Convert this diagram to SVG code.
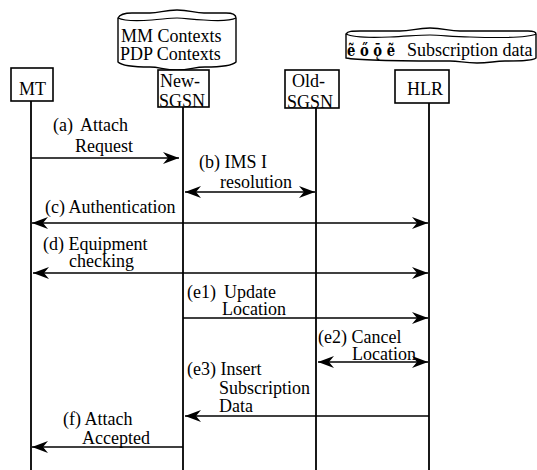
<svg xmlns="http://www.w3.org/2000/svg" width="537" height="470" viewBox="0 0 537 470">
<defs>
<marker id="ah" viewBox="0 0 16 12" refX="16" refY="6" markerWidth="16" markerHeight="12" markerUnits="userSpaceOnUse" orient="auto-start-reverse">
<path d="M0,0 L16,6 L0,12 L5,6 Z" fill="#000"/>
</marker>
</defs>
<style>
text{font-family:"Liberation Serif","Times New Roman",serif;font-size:18px;fill:#000}
.box{fill:#fff;stroke:#000;stroke-width:1.6}
.db{fill:#fff;stroke:#000;stroke-width:1.4}
.dbl{fill:none;stroke:#000;stroke-width:1.2}
.life{stroke:#000;stroke-width:1.8;fill:none}
.msg{stroke:#000;stroke-width:1.6;fill:none}
.one{marker-end:url(#ah)}
.two{marker-start:url(#ah);marker-end:url(#ah)}
.glyph{font-family:"DejaVu Serif",serif;font-weight:bold;font-size:17px}
</style>
<rect width="537" height="470" fill="#fff"/>

<g id="mm-contexts">
<path class="db" d="M118,18 C120,14 124,13 132,13 L150,13 C160,13 164,10 177,10 C190,10 194,13 204,13 L226,13 C233,13 236,15 236,18 L236,62 C232,66 220,67 205,67 C194,67 190,70 177,70 C164,70 160,67 150,67 C134,67 122,66 118,62 Z"/>
<path class="dbl" d="M118,18 C124,21 138,21 152,20 C164,19 170,18 177,18 C186,18 192,20 204,20 C218,21 230,21 236,18"/>
<text x="121" y="42">MM Contexts</text>
<text x="120" y="60">PDP Contexts</text>
</g>

<g id="subscription-data">
<path class="db" d="M346,34 C348,31 352,31 360,31 L400,31 C412,31 416,28 430,28 C444,28 448,31 460,31 L528,31 C534,31 536,32 536,34 L536,58 C532,61 520,61 505,61 C494,61 490,63 477,63 C464,63 460,61 450,61 C420,61 360,61 346,58 Z"/>
<path class="dbl" d="M346,34 C352,37 366,38 390,37 C410,36 420,35 430,35 C442,35 452,37 470,37 C500,38 528,38 536,34"/>
<text class="glyph" x="347" y="56" textLength="48" lengthAdjust="spacingAndGlyphs">ẽ ő ǭ ẽ</text>
<text x="407" y="56">Subscription data</text>
</g>

<g id="MT">
<rect class="box" x="11" y="68" width="42" height="33"/>
<text x="19" y="95">MT</text>
</g>

<g id="New-SGSN">
<rect class="box" x="158" y="70" width="51" height="37"/>
<text x="160" y="87">New-</text>
<text x="159" y="107">SGSN</text>
</g>

<g id="Old-SGSN">
<rect class="box" x="285" y="70" width="54" height="38"/>
<text x="292" y="87">Old-</text>
<text x="287" y="108">SGSN</text>
</g>

<g id="HLR">
<rect class="box" x="395" y="70" width="54" height="33"/>
<text x="407" y="95">HLR</text>
</g>

<g id="lifelines">
<line class="life" x1="31" y1="101" x2="31" y2="470"/>
<line class="life" x1="183" y1="107" x2="183" y2="470"/>
<line class="life" x1="316" y1="108" x2="316" y2="470"/>
<line class="life" x1="429" y1="103" x2="429" y2="470"/>
</g>

<g id="connectors">
<line class="msg one" x1="31" y1="158" x2="179" y2="158"/>
<line class="msg two" x1="185" y1="192" x2="315" y2="192"/>
<line class="msg two" x1="32" y1="223" x2="428" y2="223"/>
<line class="msg two" x1="33" y1="273" x2="428" y2="273"/>
<line class="msg one" x1="183" y1="318" x2="428" y2="318"/>
<line class="msg two" x1="318" y1="362" x2="428" y2="362"/>
<line class="msg one" x1="429" y1="416" x2="185" y2="416"/>
<line class="msg one" x1="183" y1="447" x2="32" y2="447"/>
</g>

<g id="labels">
<text x="53" y="131">(a) <tspan x="80">Attach</tspan></text>
<text x="75" y="152">Request</text>
<text x="199" y="168">(b) IMS I</text>
<text x="220" y="188">resolution</text>
<text x="45" y="213">(c) Authentication</text>
<text x="43" y="250">(d) Equipment</text>
<text x="69" y="267">checking</text>
<text x="187" y="298">(e1) <tspan x="224">Update</tspan></text>
<text x="222" y="315">Location</text>
<text x="318" y="343">(e2) Cancel</text>
<text x="352" y="360">Location</text>
<text x="187" y="375">(e3) Insert</text>
<text x="219" y="394">Subscription</text>
<text x="219" y="412">Data</text>
<text x="63" y="425">(f) Attach</text>
<text x="82" y="444">Accepted</text>
</g>
</svg>
